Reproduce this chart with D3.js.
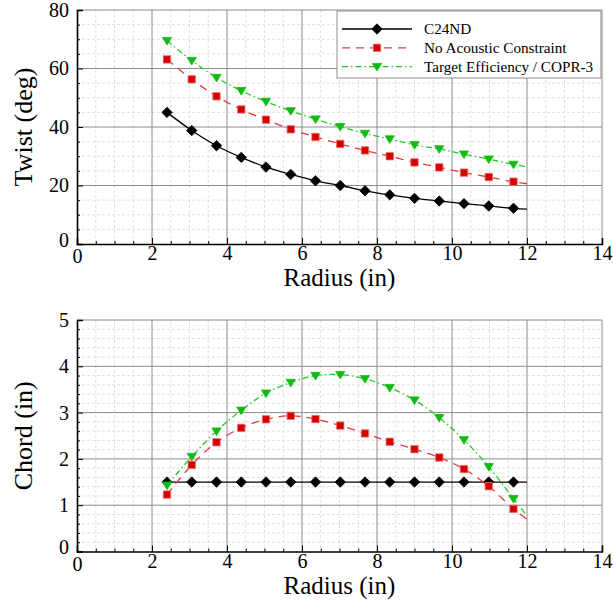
<!DOCTYPE html>
<html>
<head>
<meta charset="utf-8">
<script src="https://cdn.jsdelivr.net/npm/d3@7"></script>
<style>
  html, body { margin: 0; padding: 0; background: #fff; }
  svg { display: block; }
</style>
</head>
<body>
<svg id="chart" width="613" height="602"></svg>
<script>
// ---- data ----
const radius = [2.4, 3.06, 3.72, 4.38, 5.04, 5.7, 6.36, 7.02, 7.68, 8.34, 9.0, 9.66, 10.32, 10.98, 11.64, 12.0];
const seriesNames = ["C24ND", "No Acoustic Constraint", "Target Efficiency / COPR-3"];
const twistC24ND = [45.0, 38.8, 33.6, 29.6, 26.3, 23.8, 21.6, 20.0, 18.2, 16.8, 15.6, 14.7, 13.8, 13.0, 12.2, 11.9];
const twistNoAc  = [63.1, 56.3, 50.5, 46.0, 42.5, 39.2, 36.6, 34.2, 32.0, 30.0, 27.9, 26.2, 24.4, 22.9, 21.3, 20.6];
const twistTarget= [69.5, 62.7, 56.9, 52.4, 48.7, 45.5, 42.7, 40.1, 37.8, 35.9, 33.9, 32.5, 30.7, 29.0, 27.2, 26.4];
const chordC24ND = [1.5, 1.5, 1.5, 1.5, 1.5, 1.5, 1.5, 1.5, 1.5, 1.5, 1.5, 1.5, 1.5, 1.5, 1.5, 1.5];
const chordNoAc  = [1.23, 1.87, 2.36, 2.67, 2.855, 2.93, 2.86, 2.72, 2.55, 2.37, 2.21, 2.03, 1.78, 1.41, 0.92, 0.70];
const chordTarget= [1.43, 2.05, 2.60, 3.05, 3.42, 3.65, 3.80, 3.82, 3.73, 3.54, 3.27, 2.89, 2.41, 1.83, 1.14, 0.77];
const xTicks = [0, 2, 4, 6, 8, 10, 12, 14];
const twistTicks = [0, 20, 40, 60, 80];
const chordTicks = [0, 1, 2, 3, 4, 5];

// ---- styles ----
const FONT = "'Liberation Serif', 'DejaVu Serif', serif";
const styles = [
  { line: "#000000", dash: null, width: 1.3, marker: "diamond", fill: "#000000", stroke: "#000000" },
  { line: "#e03c3c", dash: "8,6", width: 1.3, marker: "square", fill: "#d40000", stroke: "#f07070" },
  { line: "#22cc22", dash: "6,3,1.5,3", width: 1.3, marker: "triangle", fill: "#11bb11", stroke: "#11bb11" }
];

const svg = d3.select("#chart");

function markerPath(type) {
  if (type === "diamond") return "M0,-5.2L5.2,0L0,5.2L-5.2,0Z";
  if (type === "square") return "M-3.7,-3.7H3.7V3.7H-3.7Z";
  return "M-4.6,-3.2L4.6,-3.2L0,4.4Z";
}

function panel(cfg) {
  const x = d3.scaleLinear().domain([0, 14]).range([77, 602]);
  const y = d3.scaleLinear().domain(cfg.ydomain).range([cfg.bottom, cfg.top]);
  const g = svg.append("g");

  // minor grid
  const xMinor = d3.range(0, 14.001, 0.5).filter(v => Math.abs(v / 2 - Math.round(v / 2)) > 1e-6);
  const yMinor = d3.range(cfg.ydomain[0], cfg.ydomain[1] + 1e-6, cfg.minorStep)
    .filter(v => Math.abs(v / cfg.majorStep - Math.round(v / cfg.majorStep)) > 1e-6);
  g.append("g").selectAll("line").data(xMinor).join("line")
    .attr("x1", d => x(d)).attr("x2", d => x(d))
    .attr("y1", cfg.top).attr("y2", cfg.bottom)
    .attr("stroke", "#d8d8d8").attr("stroke-width", 0.8).attr("stroke-dasharray", "3,2");
  g.append("g").selectAll("line").data(yMinor).join("line")
    .attr("x1", 77).attr("x2", 602)
    .attr("y1", d => y(d)).attr("y2", d => y(d))
    .attr("stroke", "#d8d8d8").attr("stroke-width", 0.8).attr("stroke-dasharray", "3,2");
  // major grid
  g.append("g").selectAll("line").data(xTicks.slice(1)).join("line")
    .attr("x1", d => x(d)).attr("x2", d => x(d))
    .attr("y1", cfg.top).attr("y2", cfg.bottom)
    .attr("stroke", "#8c8c8c").attr("stroke-width", 1);
  g.append("g").selectAll("line").data(cfg.yticks.slice(1)).join("line")
    .attr("x1", 77).attr("x2", 602)
    .attr("y1", d => y(d)).attr("y2", d => y(d))
    .attr("stroke", "#8c8c8c").attr("stroke-width", 1);

  // axes
  const xAxis = d3.axisBottom(x).tickValues(xTicks).tickSize(-6).tickPadding(2).tickFormat(d3.format("d"));
  const xAxisMinor = d3.axisBottom(x).tickValues(xMinor).tickSize(-3).tickFormat("");
  const yAxis = d3.axisLeft(y).tickValues(cfg.yticks).tickSize(-6).tickPadding(8).tickFormat(d3.format("d"));
  const yAxisMinor = d3.axisLeft(y).tickValues(yMinor).tickSize(-3).tickFormat("");

  const gx = g.append("g").attr("transform", `translate(0,${cfg.bottom})`).call(xAxis);
  g.append("g").attr("transform", `translate(0,${cfg.bottom})`).call(xAxisMinor).select(".domain").remove();
  const gy = g.append("g").attr("transform", `translate(77,0)`).call(yAxis);
  g.append("g").attr("transform", `translate(77,0)`).call(yAxisMinor).select(".domain").remove();
  [gx, gy].forEach(a => {
    a.attr("font-family", null).attr("font-size", null);
    a.select(".domain").attr("stroke", "#000").attr("stroke-width", 1.6);
    a.selectAll(".tick line").attr("stroke", "#000");
    a.selectAll(".tick text").style("font-family", FONT).style("font-size", "20px").attr("fill", "#000");
  });
  gy.selectAll(".tick text").filter(d => d === 0).attr("dy", "0.1em");
  gx.selectAll(".tick text").filter(d => d === 0).attr("dy", "0.85em");

  // titles
  g.append("text").attr("x", 339.5).attr("y", cfg.bottom + 42)
    .attr("text-anchor", "middle").style("font-family", FONT).style("font-size", "25px")
    .attr("fill", "#000").text("Radius (in)");
  g.append("text").attr("transform", `translate(32,${(cfg.top + cfg.bottom) / 2}) rotate(-90)`)
    .attr("text-anchor", "middle").style("font-family", FONT).style("font-size", "26px")
    .attr("fill", "#000").text(cfg.ylabel);

  // series
  const line = d3.line().x((d, i) => x(radius[i])).y(d => y(d)).curve(d3.curveCatmullRom);
  cfg.series.forEach((vals, k) => {
    const s = styles[k];
    g.append("path").attr("d", line(vals)).attr("fill", "none")
      .attr("stroke", s.line).attr("stroke-width", s.width)
      .attr("stroke-dasharray", s.dash);
    g.append("g").selectAll("path").data(vals.slice(0, vals.length - 1)).join("path")
      .attr("transform", (d, i) => `translate(${x(radius[i])},${y(d)})`)
      .attr("d", markerPath(s.marker))
      .attr("fill", s.fill).attr("stroke", s.stroke).attr("stroke-width", 0.8);
  });
  return g;
}

panel({ top: 10, bottom: 244, ydomain: [0, 80], yticks: twistTicks, majorStep: 20, minorStep: 5,
        ylabel: "Twist (deg)", series: [twistC24ND, twistNoAc, twistTarget] });
panel({ top: 320, bottom: 551.5, ydomain: [0, 5], yticks: chordTicks, majorStep: 1, minorStep: 0.2,
        ylabel: "Chord (in)", series: [chordC24ND, chordNoAc, chordTarget] });

// legend
const lg = svg.append("g");
lg.append("rect").attr("x", 337).attr("y", 11).attr("width", 264).attr("height", 67)
  .attr("fill", "#fff").attr("stroke", "#8c8c8c").attr("stroke-width", 1);
seriesNames.forEach((name, k) => {
  const s = styles[k];
  const cy = 29 + k * 18.8;
  lg.append("line").attr("x1", 342).attr("x2", 412).attr("y1", cy).attr("y2", cy)
    .attr("stroke", s.line).attr("stroke-width", s.width).attr("stroke-dasharray", s.dash);
  lg.append("path").attr("transform", `translate(377,${cy})`).attr("d", markerPath(s.marker))
    .attr("fill", s.fill).attr("stroke", s.stroke).attr("stroke-width", 0.8);
  lg.append("text").attr("x", 424).attr("y", cy + 5)
    .style("font-family", FONT).style("font-size", "15.2px").attr("fill", "#000").text(name);
});
</script>
</body>
</html>
